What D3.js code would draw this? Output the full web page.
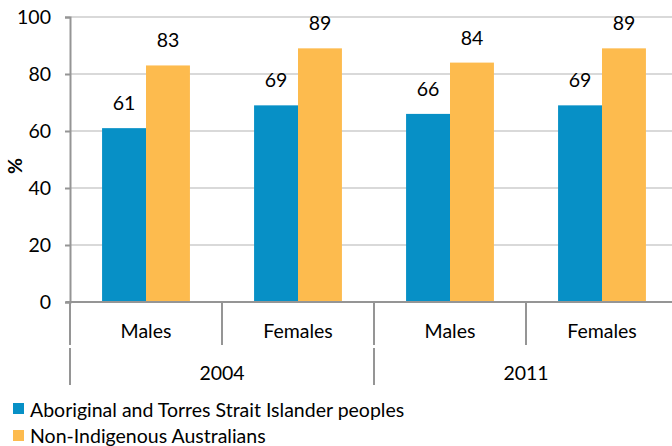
<!DOCTYPE html>
<html><head><meta charset="utf-8">
<script src="https://cdn.jsdelivr.net/npm/d3@7"></script>
<style>body{margin:0;background:#fff}svg{display:block;font-family:Lato,"Open Sans",sans-serif}</style>
</head><body><svg id="c" width="672" height="446"></svg>
<script>
const years = ["2004", "2011"];
const sexes = ["Males", "Females"];
const seriesNames = ["Aboriginal and Torres Strait Islander peoples", "Non-Indigenous Australians"];
const aboriginal = [61, 69, 66, 69];
const nonIndigenous = [83, 89, 84, 89];
const yTicks = [0, 20, 40, 60, 80, 100];
const colors = ["#0790c6", "#fdbb4e"];

(function () {
const FS = 19.5;
const groups = [];
years.forEach(yy => sexes.forEach(s => groups.push(yy + "|" + s)));
const series = [aboriginal, nonIndigenous];

const svg = d3.select("#c");
const mLeft = 70, mRight = 678, mTop = 17, mBottom = 302;
const x = d3.scaleBand().domain(groups).range([mLeft, mRight]).paddingInner(0).paddingOuter(0);
const xs = d3.scaleBand().domain([0, 1]).range([0, x.bandwidth()]).paddingInner(0).paddingOuter(0.73);
const y = d3.scaleLinear().domain([0, 100]).range([mBottom, mTop]);
const axisColor = "#959595";

svg.append("g").selectAll("line").data(yTicks.filter(d => d > 0)).join("line")
  .attr("x1", mLeft).attr("x2", 672).attr("y1", d => y(d)).attr("y2", d => y(d))
  .attr("stroke", "#d9d9d9").attr("stroke-width", 2);

const ya = svg.append("g").attr("transform", `translate(${mLeft},0)`)
  .call(d3.axisLeft(y).tickValues(yTicks).tickSize(5).tickPadding(14));
ya.select(".domain").attr("stroke", axisColor).attr("stroke-width", 2);
ya.selectAll(".tick line").attr("stroke", axisColor).attr("stroke-width", 2);
ya.selectAll(".tick text").attr("font-size", FS).attr("fill", "#000").attr("font-family", "Lato,sans-serif");

series.forEach((vals, si) => {
  svg.append("g").selectAll("rect").data(vals).join("rect")
    .attr("x", (d, i) => x(groups[i]) + xs(si))
    .attr("width", xs.bandwidth())
    .attr("y", d => y(d))
    .attr("height", d => y(0) - y(d))
    .attr("fill", colors[si]);
  svg.append("g").selectAll("text").data(vals).join("text")
    .attr("x", (d, i) => x(groups[i]) + xs(si) + xs.bandwidth() / 2)
    .attr("y", d => y(d) - 18)
    .attr("text-anchor", "middle").attr("font-size", FS).attr("fill", "#000")
    .text(d => d);
});

svg.append("line").attr("x1", 66).attr("x2", 672).attr("y1", mBottom).attr("y2", mBottom)
  .attr("stroke", axisColor).attr("stroke-width", 2);

groups.forEach((g, i) => {
  const xx = x(g);
  svg.append("line").attr("x1", xx).attr("x2", xx).attr("y1", mBottom).attr("y2", 345)
    .attr("stroke", axisColor).attr("stroke-width", 2);
  svg.append("text").attr("x", xx + x.bandwidth() / 2).attr("y", 338)
    .attr("text-anchor", "middle").attr("font-size", FS).attr("fill", "#000")
    .text(g.split("|")[1]);
});
const yearX = d3.scaleBand().domain(years).range([mLeft, mRight]);
years.forEach(yr => {
  const xx = yearX(yr);
  svg.append("line").attr("x1", xx).attr("x2", xx).attr("y1", 348).attr("y2", 385)
    .attr("stroke", axisColor).attr("stroke-width", 2);
  svg.append("text").attr("x", xx + yearX.bandwidth() / 2).attr("y", 380)
    .attr("text-anchor", "middle").attr("font-size", FS).attr("fill", "#000")
    .text(yr);
});

svg.append("text").attr("transform", "translate(22,166) rotate(-90)")
  .attr("text-anchor", "middle").attr("font-size", FS).attr("font-weight", "bold").text("%");

const lg = svg.append("g");
seriesNames.forEach((n, i) => {
  lg.append("rect").attr("x", 13).attr("y", 403 + i * 27).attr("width", 11).attr("height", 11).attr("fill", colors[i]);
  lg.append("text").attr("x", 30).attr("y", 417 + i * 26).attr("font-size", FS).attr("fill", "#000").text(n);
});
})();
</script></body></html>
